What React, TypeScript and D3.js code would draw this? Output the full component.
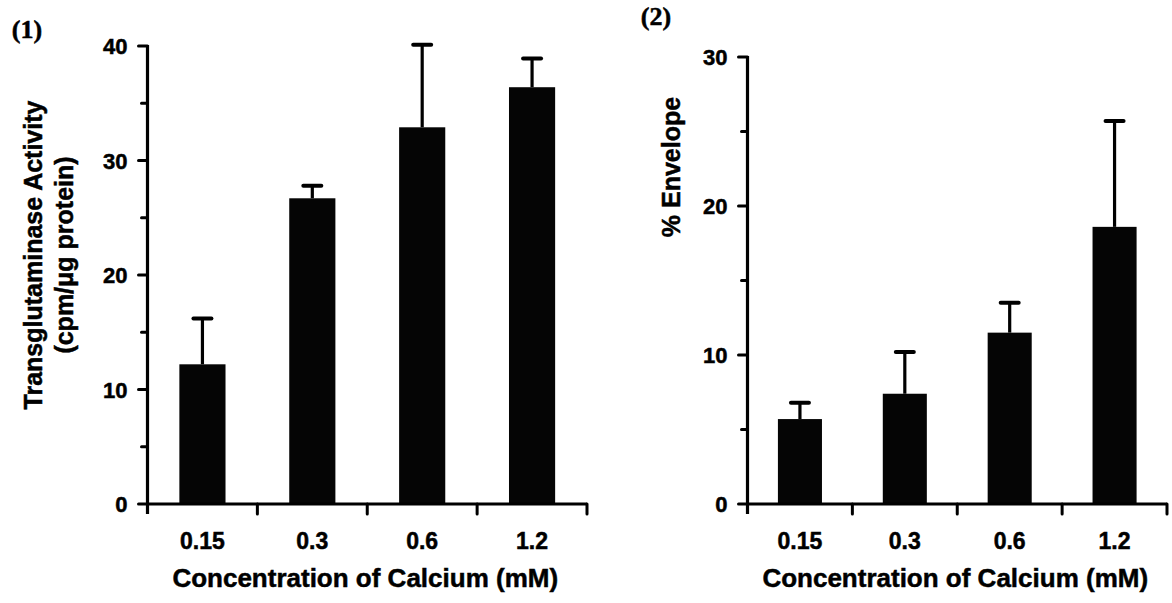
import React from 'react';
import * as d3 from 'd3';

const categories = ['0.15', '0.3', '0.6', '1.2'];
const activityValues = [12.2, 26.7, 32.9, 36.4];
const activityErrors = [4.0, 1.1, 7.2, 2.5];
const envelopeValues = [5.7, 7.4, 11.5, 18.6];
const envelopeErrors = [1.1, 2.8, 2.0, 7.1];
const activityTicks = [0, 10, 20, 30, 40];
const activityMinor = [5, 15, 25, 35];
const envelopeTicks = [0, 10, 20, 30];
const envelopeMinor = [5, 15, 25];
const xTitle = 'Concentration of Calcium (mM)';
const activityTitle = ['Transglutaminase Activity', '(cpm/\u03BCg protein)'];
const envelopeTitle = ['% Envelope'];

const SANS = '"Liberation Sans", Arial, Helvetica, sans-serif';
const SERIF = '"Liberation Serif", "Times New Roman", serif';

type PanelProps = {
  x0: number; x1: number; yTop: number; yBottom: number; max: number;
  ticks: number[]; minor: number[]; values: number[]; errors: number[];
  tag: string; tagX: number; tagY: number;
  titleLines: string[]; titleXs: number[]; titleY: number;
};

const txt = { stroke: '#000', strokeWidth: 0.5 };

function Panel(p: PanelProps) {
  const x = d3.scaleBand<string>().domain(categories).range([p.x0, p.x1]).padding(0);
  const y = d3.scaleLinear().domain([0, p.max]).range([p.yBottom, p.yTop]);
  const bw = x.bandwidth() * 0.42;
  const capW = 18;
  const stroke = '#000';
  return (
    <g>
      <text x={p.tagX} y={p.tagY} fontFamily={SERIF} fontWeight="bold" fontSize={26} textAnchor="middle" {...txt}>{p.tag}</text>
      {p.titleLines.map((t, i) => (
        <text key={i} transform={`translate(${p.titleXs[i]},${p.titleY}) rotate(-90)`} textAnchor="middle"
          fontFamily={SANS} fontWeight="bold" fontSize={25} {...txt}>{t}</text>
      ))}
      {categories.map((c, i) => {
        const cx = (x(c) as number) + x.bandwidth() / 2;
        const top = y(p.values[i]);
        const et = y(p.values[i] + p.errors[i]);
        return (
          <g key={c}>
            <rect x={cx - bw / 2} y={top} width={bw} height={p.yBottom - top} fill="#050505" />
            <line x1={cx} x2={cx} y1={top} y2={et} stroke={stroke} strokeWidth={3.2} />
            <line x1={cx - capW / 2} x2={cx + capW / 2} y1={et} y2={et} stroke={stroke} strokeWidth={4} strokeLinecap="round" />
          </g>
        );
      })}
      <line x1={p.x0} x2={p.x0} y1={y(p.max) - 1} y2={p.yBottom + 10} stroke={stroke} strokeWidth={3.2} />
      {p.ticks.map(t => (
        <g key={t}>
          <line x1={p.x0 - 9} x2={p.x0} y1={y(t)} y2={y(t)} stroke={stroke} strokeWidth={3} strokeLinecap="round" />
          <text x={p.x0 - 20} y={y(t) + 8} textAnchor="end" fontFamily={SANS} fontWeight="bold" fontSize={22} {...txt}>{t}</text>
        </g>
      ))}
      {p.minor.map(t => (
        <line key={t} x1={p.x0 - 6} x2={p.x0} y1={y(t)} y2={y(t)} stroke={stroke} strokeWidth={3} strokeLinecap="round" />
      ))}
      <line x1={p.x0} x2={p.x1} y1={p.yBottom} y2={p.yBottom} stroke={stroke} strokeWidth={3.2} />
      {categories.map(c => {
        const bx = (x(c) as number) + x.bandwidth();
        return <line key={c} x1={bx} x2={bx} y1={p.yBottom} y2={p.yBottom + 10} stroke={stroke} strokeWidth={3} strokeLinecap="round" />;
      })}
      {categories.map(c => (
        <text key={c} x={(x(c) as number) + x.bandwidth() / 2} y={549} textAnchor="middle"
          fontFamily={SANS} fontWeight="bold" fontSize={23} {...txt}>{c}</text>
      ))}
      <text x={(p.x0 + p.x1) / 2 - 2} y={587} textAnchor="middle" fontFamily={SANS} fontWeight="bold" fontSize={26} {...txt}>{xTitle}</text>
    </g>
  );
}

export default function App() {
  return (
    <svg width={1172} height={603} style={{ position: 'absolute', left: 0, top: 0, background: '#fff' }}>
      <rect width={1172} height={603} fill="#fff" />
      <Panel x0={147.5} x1={587} yTop={46} yBottom={504} max={40} ticks={activityTicks} minor={activityMinor}
        values={activityValues} errors={activityErrors} tag="(1)" tagX={27} tagY={38}
        titleLines={activityTitle} titleXs={[42, 73]} titleY={255} />
      <Panel x0={747.5} x1={1167} yTop={57} yBottom={504} max={30} ticks={envelopeTicks} minor={envelopeMinor}
        values={envelopeValues} errors={envelopeErrors} tag="(2)" tagX={656} tagY={25}
        titleLines={envelopeTitle} titleXs={[680]} titleY={167} />
    </svg>
  );
}
